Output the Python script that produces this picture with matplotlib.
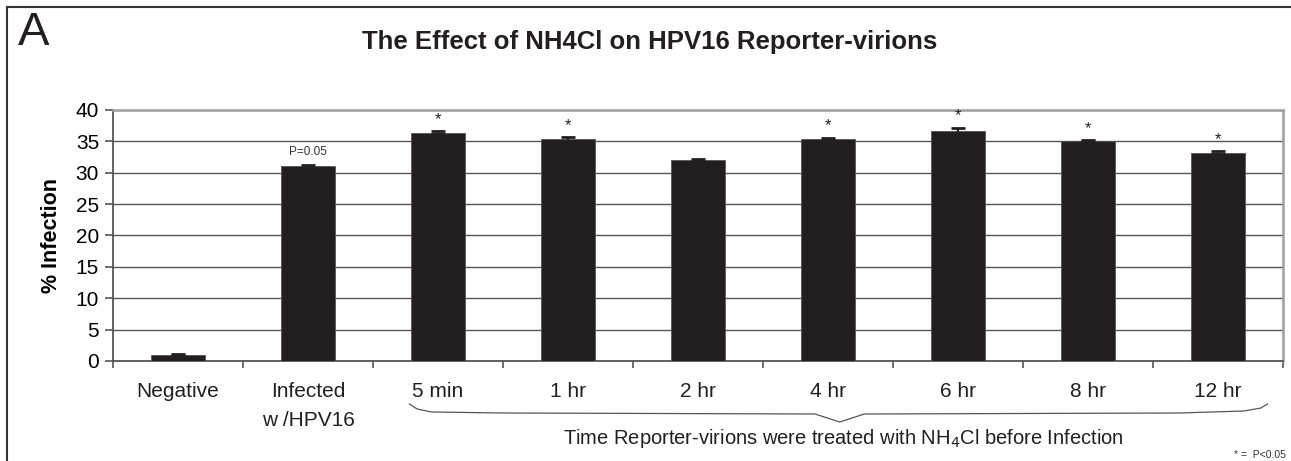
import matplotlib.pyplot as plt
from matplotlib.lines import Line2D
import numpy as np

plt.rcParams['font.family'] = ['Liberation Sans', 'DejaVu Sans']

# data
labels = ['Negative', 'Infected\nw /HPV16', '5 min', '1 hr', '2 hr', '4 hr', '6 hr', '8 hr', '12 hr']
infection = [1.0, 31.0, 36.4, 35.4, 32.0, 35.4, 36.7, 35.1, 33.2]
errors = [0.1, 0.2, 0.2, 0.3, 0.15, 0.2, 0.5, 0.1, 0.25]
marks = ['', 'P=0.05', '*', '*', '', '*', '*', '*', '*']

fig = plt.figure(figsize=(12.91, 4.61), dpi=100)
ax = fig.add_axes([113/1291, 1-361/461, (1283-113)/1291, (361-110)/461])

x = np.arange(len(labels))
ax.bar(x, infection, width=0.41, color='#231f20', edgecolor='#555555', linewidth=0.6, zorder=3)
ax.errorbar(x, infection, yerr=errors, fmt='none', ecolor='#231f20', elinewidth=1.5,
            capsize=5, capthick=2, zorder=4)

for xi, val, err, m in zip(x, infection, errors, marks):
    if m == '*':
        ax.annotate(m, (xi, val + err), xytext=(0, 3), textcoords='offset points',
                    ha='center', va='bottom', fontsize=12, color='#231f20')
    elif m:
        ax.annotate(m, (xi, val + err), xytext=(0, 5), textcoords='offset points',
                    ha='center', va='bottom', fontsize=8.5, color='#333333')

ax.set_xlim(-0.5, len(labels) - 0.5)
ax.set_ylim(0, 40)
ax.set_yticks(range(0, 41, 5))
ax.set_xticks(x)
ax.set_xticklabels(labels, fontsize=15, color='#231f20')
for lab in ax.get_xticklabels():
    lab.set_linespacing(1.7)
ax.set_xticks(np.arange(-0.5, len(labels), 1), minor=True)
ax.tick_params(axis='x', which='major', length=0, pad=15)
ax.tick_params(axis='x', which='minor', length=5, width=1.2, color='#555555', direction='out')
ax.tick_params(axis='y', length=6, width=1.2, color='#555555', labelsize=15, pad=4)
ax.grid(axis='y', color='#555555', linewidth=1.0, zorder=0)

for side in ['top', 'right']:
    ax.spines[side].set_color('#a0a0a0')
    ax.spines[side].set_linewidth(1.8)
for side in ['left', 'bottom']:
    ax.spines[side].set_color('#555555')
    ax.spines[side].set_linewidth(1.3)

ax.set_ylabel('% Infection', fontsize=15.5, fontweight='bold', labelpad=10)

# curly brace under the time points
bx = np.array([1.78, 1.84, 1.95, 2.5, 4.9, 5.09, 5.28, 7.7, 8.2, 8.33, 8.38])
by = np.array([404, 409, 412, 413, 414, 422, 414, 413, 411, 408, 404])
ax.plot(bx, 1 - (by - 110) / (361 - 110), color='#555555', linewidth=0.9,
        transform=ax.get_xaxis_transform(), clip_on=False)

fig.text(843/1291, 1-444/461, 'Time Reporter-virions were treated with NH$_{4}$Cl before Infection',
         ha='center', va='baseline', fontsize=14.5, color='#231f20')
fig.text(1286/1291, 1-455/461, '* =  P<0.05', ha='right', va='center', fontsize=7.5, color='#333333')

fig.text(650/1291, 1-42/461, 'The Effect of NH4Cl on HPV16 Reporter-virions', ha='center', va='center',
         fontsize=18.5, fontweight='bold', color='#231f20')
fig.text(18/1291, 1-33/461, 'A', ha='left', va='center', fontsize=34, color='#231f20')

# outer frame (top and left only)
fig.add_artist(Line2D([7/1291, 1.0], [1-7/461, 1-7/461], color='#333333', linewidth=1.5))
fig.add_artist(Line2D([7/1291, 7/1291], [1-7/461, 0.0], color='#333333', linewidth=1.5))

fig.savefig('out.png', dpi=100)
